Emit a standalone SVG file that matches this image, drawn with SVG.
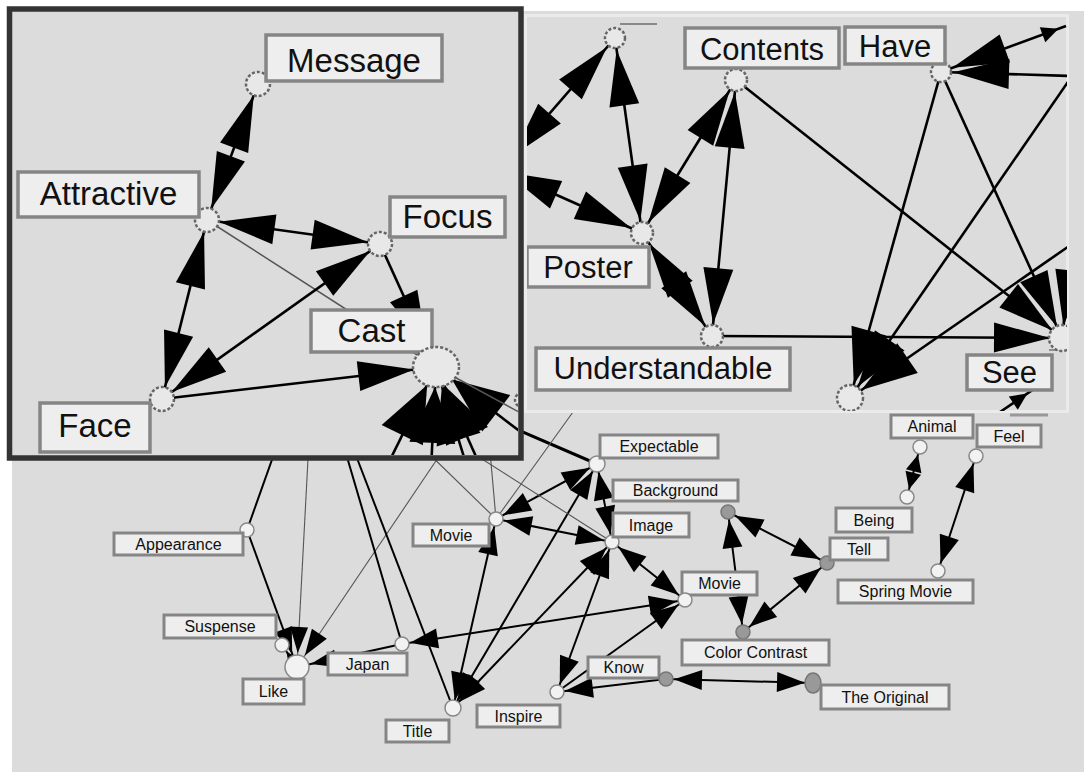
<svg xmlns="http://www.w3.org/2000/svg" width="1084" height="772" viewBox="0 0 1084 772">
<style>
.t{font-family:"Liberation Sans",Arial,sans-serif;fill:#111}
.ts{font-size:16px;text-anchor:middle}
.tb{font-size:33px;text-anchor:middle}
.tm{font-size:31px;text-anchor:middle}
.lb{fill:#eeeeee;stroke:#858585;stroke-width:3}
.lbb{fill:#eeeeee;stroke:#858585;stroke-width:3.5}
.e{stroke:#000;stroke-width:2;fill:none}
.ei{stroke:#000;stroke-width:2.6;fill:none}
.thin{stroke:#555;stroke-width:1.1;fill:none}
.n{fill:#f2f2f2;stroke:#888;stroke-width:1.5}
.ng{fill:#999;stroke:#777;stroke-width:1.5}
.nb{fill:#e8e8e8;stroke:#666;stroke-width:2.5;stroke-dasharray:3 2}
</style>
<defs>
<marker id="a" markerUnits="userSpaceOnUse" orient="auto-start-reverse" viewBox="-38 -12 38 24" markerWidth="38" markerHeight="24" refX="0" refY="0"><path d="M-8,0 L-36,-10 L-36,10Z" fill="#000"/></marker>
<marker id="aL" markerUnits="userSpaceOnUse" orient="auto-start-reverse" viewBox="-42 -11 42 22" markerWidth="42" markerHeight="22" refX="0" refY="0"><path d="M-14,0 L-40,-9 L-40,9Z" fill="#000"/></marker>
<marker id="s" markerUnits="userSpaceOnUse" orient="auto-start-reverse" viewBox="-27 -10 27 20" markerWidth="27" markerHeight="20" refX="0" refY="0"><path d="M-8,0 L-25,-8 L-25,8Z" fill="#000"/></marker>
<marker id="A" markerUnits="userSpaceOnUse" orient="auto-start-reverse" viewBox="-70 -17 70 34" markerWidth="70" markerHeight="34" refX="0" refY="0"><path d="M-12,0 L-68,-15 L-68,15Z" fill="#000"/></marker>
<marker id="AC" markerUnits="userSpaceOnUse" orient="auto-start-reverse" viewBox="-80 -17 80 34" markerWidth="80" markerHeight="34" refX="0" refY="0"><path d="M-22,0 L-78,-15 L-78,15Z" fill="#000"/></marker>
<marker id="F" markerUnits="userSpaceOnUse" orient="auto-start-reverse" viewBox="-78 -25 78 50" markerWidth="78" markerHeight="50" refX="0" refY="0"><path d="M-20,0 L-76,-23 L-76,23Z" fill="#000"/></marker>
<marker id="AB" markerUnits="userSpaceOnUse" orient="auto-start-reverse" viewBox="-72 -20 72 40" markerWidth="72" markerHeight="40" refX="0" refY="0"><path d="M-14,0 L-70,-18 L-70,18Z" fill="#000"/></marker>
<clipPath id="clipL"><rect x="12" y="12" width="506" height="443"/></clipPath>
<clipPath id="clipR"><rect x="527" y="17" width="540" height="394"/></clipPath>
</defs>

<rect x="12" y="11" width="1072" height="761" fill="#dcdcdc"/>

<g id="edges-lower">
<line class="e" x1="279" y1="440" x2="247" y2="530"/>
<line class="e" x1="247" y1="530" x2="297" y2="667" marker-end="url(#aL)"/>
<line class="thin" x1="309" y1="440" x2="297" y2="667" marker-end="url(#aL)"/>
<line class="thin" x1="450" y1="440" x2="297" y2="667" marker-end="url(#aL)"/>
<line class="e" x1="297" y1="667" x2="282" y2="645" marker-end="url(#s)"/>
<line class="e" x1="402" y1="644" x2="297" y2="667" marker-end="url(#aL)"/>
<line class="e" x1="342" y1="440" x2="402" y2="644"/>
<line class="e" x1="350" y1="440" x2="453" y2="708"/>
<line class="e" x1="685" y1="600" x2="402" y2="644" marker-start="url(#a)" marker-end="url(#a)"/>
<line class="e" x1="496" y1="519" x2="453" y2="708" marker-start="url(#a)" marker-end="url(#a)"/>
<line class="e" x1="597" y1="464" x2="453" y2="708" marker-start="url(#a)" marker-end="url(#a)"/>
<line class="e" x1="612" y1="542" x2="453" y2="708" marker-start="url(#a)" marker-end="url(#a)"/>
<line class="e" x1="597" y1="464" x2="496" y2="519" marker-start="url(#a)" marker-end="url(#a)"/>
<line class="e" x1="612" y1="542" x2="496" y2="519" marker-start="url(#a)" marker-end="url(#a)"/>
<line class="e" x1="597" y1="464" x2="612" y2="542" marker-start="url(#a)" marker-end="url(#a)"/>
<line class="e" x1="612" y1="542" x2="685" y2="600" marker-start="url(#a)" marker-end="url(#a)"/>
<line class="e" x1="612" y1="542" x2="557" y2="692" marker-start="url(#a)" marker-end="url(#a)"/>
<line class="e" x1="666" y1="679" x2="557" y2="692" marker-end="url(#a)"/>
<line class="e" x1="557" y1="692" x2="685" y2="600" marker-end="url(#a)"/>
<line class="e" x1="666" y1="679" x2="813" y2="683" marker-start="url(#a)" marker-end="url(#a)"/>
<line class="e" x1="728" y1="512" x2="827" y2="563" marker-start="url(#a)" marker-end="url(#a)"/>
<line class="e" x1="743" y1="632" x2="827" y2="563" marker-start="url(#a)" marker-end="url(#a)"/>
<line class="e" x1="743" y1="632" x2="728" y2="512" marker-start="url(#a)" marker-end="url(#a)"/>
<line class="e" x1="920" y1="447" x2="907" y2="497" marker-start="url(#s)" marker-end="url(#s)"/>
<line class="e" x1="976" y1="456" x2="938" y2="571" marker-start="url(#a)" marker-end="url(#a)"/>
<line class="e" style="stroke-width:3" x1="495" y1="420" x2="597" y2="464"/>
<line class="thin" x1="420" y1="445" x2="496" y2="519"/>
<line class="thin" x1="489" y1="440" x2="496" y2="519"/>
<line class="thin" x1="460" y1="445" x2="612" y2="542"/>
<line class="thin" x1="496" y1="519" x2="596" y2="380"/>
<line x1="1010" y1="415" x2="1048" y2="415" stroke="#999" stroke-width="3"/>
</g>

<g id="n-appearance"><circle class="n" cx="247" cy="530" r="7"/><rect class="lb" x="114" y="533" width="129" height="22"/><text class="t ts" x="178.5" y="550">Appearance</text></g>
<g id="n-suspense"><circle class="n" cx="282" cy="645" r="7"/><rect class="lb" x="164" y="615" width="112" height="23"/><text class="t ts" x="220" y="632">Suspense</text></g>
<g id="n-like"><circle class="n" cx="297" cy="667" r="12"/><rect class="lb" x="243" y="679" width="61" height="25"/><text class="t ts" x="273.5" y="697">Like</text></g>
<g id="n-japan"><circle class="n" cx="402" cy="644" r="7"/><rect class="lb" x="328" y="653" width="79" height="22"/><text class="t ts" x="367.5" y="670">Japan</text></g>
<g id="n-title"><circle class="n" cx="453" cy="708" r="8"/><rect class="lb" x="386" y="720" width="63" height="22"/><text class="t ts" x="417.5" y="737">Title</text></g>
<g id="n-movie1"><circle class="n" cx="496" cy="519" r="7"/><rect class="lb" x="413" y="524" width="76" height="22"/><text class="t ts" x="451" y="541">Movie</text></g>
<g id="n-expectable"><circle class="n" cx="597" cy="464" r="8"/><rect class="lb" x="600" y="435" width="118" height="23"/><text class="t ts" x="659" y="452">Expectable</text></g>
<g id="n-background"><rect class="lb" x="613" y="480" width="125" height="21"/><text class="t ts" x="675.5" y="496">Background</text><circle class="ng" cx="728" cy="512" r="7"/></g>
<g id="n-image"><circle class="n" cx="612" cy="542" r="7"/><rect class="lb" x="613" y="513" width="76" height="24"/><text class="t ts" x="651" y="531">Image</text></g>
<g id="n-movie2"><rect class="lb" x="682" y="572" width="75" height="23"/><text class="t ts" x="719.5" y="589">Movie</text><circle class="n" cx="685" cy="600" r="7"/></g>
<g id="n-colorcontrast"><circle class="ng" cx="743" cy="632" r="7"/><rect class="lb" x="682" y="640" width="147" height="25"/><text class="t ts" x="755.5" y="658">Color Contrast</text></g>
<g id="n-tell"><circle class="ng" cx="827" cy="563" r="7"/><rect class="lb" x="830" y="538" width="58" height="22"/><text class="t ts" x="859" y="555">Tell</text></g>
<g id="n-know"><rect class="lb" x="588" y="657" width="71" height="21"/><text class="t ts" x="623.5" y="673">Know</text><circle class="ng" cx="666" cy="679" r="7"/></g>
<g id="n-inspire"><circle class="n" cx="557" cy="692" r="7"/><rect class="lb" x="477" y="705" width="83" height="22"/><text class="t ts" x="518.5" y="722">Inspire</text></g>
<g id="n-original"><ellipse class="ng" cx="813" cy="683" rx="8" ry="10"/><rect class="lb" x="821" y="685" width="128" height="24"/><text class="t ts" x="885" y="703">The Original</text></g>
<g id="n-animal"><rect class="lb" x="891" y="415" width="82" height="23"/><text class="t ts" x="932" y="432">Animal</text><circle class="n" cx="920" cy="447" r="7"/></g>
<g id="n-being"><circle class="n" cx="907" cy="497" r="7"/><rect class="lb" x="836" y="508" width="76" height="24"/><text class="t ts" x="874" y="526">Being</text></g>
<g id="n-feel"><rect class="lb" x="977" y="425" width="64" height="22"/><text class="t ts" x="1009" y="442">Feel</text><circle class="n" cx="976" cy="456" r="7"/></g>
<g id="n-springmovie"><circle class="n" cx="938" cy="571" r="7"/><rect class="lb" x="838" y="580" width="135" height="23"/><text class="t ts" x="905.5" y="597">Spring Movie</text></g>

<g id="inset-right">
<rect x="525.5" y="15.5" width="542" height="396" fill="#dcdcdc" stroke="#ebebeb" stroke-width="3"/>
<g clip-path="url(#clipR)">
<g id="edges-inset-right">
<line class="ei" x1="615" y1="38" x2="505" y2="165" marker-start="url(#A)" marker-end="url(#A)"/>
<line class="ei" x1="615" y1="38" x2="642" y2="233" marker-start="url(#A)" marker-end="url(#A)"/>
<line class="ei" x1="642" y1="233" x2="494" y2="167" marker-start="url(#A)" marker-end="url(#A)"/>
<line class="ei" x1="736" y1="80" x2="642" y2="233" marker-start="url(#A)" marker-end="url(#A)"/>
<line class="ei" x1="736" y1="80" x2="712" y2="336" marker-start="url(#A)" marker-end="url(#A)"/>
<line class="ei" x1="642" y1="233" x2="712" y2="336" marker-start="url(#A)" marker-end="url(#A)"/>
<line class="ei" x1="736" y1="80" x2="1062" y2="338" marker-end="url(#A)"/>
<line class="ei" x1="712" y1="336" x2="1062" y2="338" marker-end="url(#A)"/>
<line class="ei" x1="941" y1="72" x2="850" y2="398" marker-end="url(#AB)"/>
<line class="ei" x1="941" y1="72" x2="1062" y2="338" marker-end="url(#A)"/>
<line class="ei" x1="1072" y1="76" x2="850" y2="398" marker-end="url(#AB)"/>
<line class="ei" x1="1072" y1="244" x2="850" y2="398" marker-end="url(#AB)"/>
<line class="ei" x1="1072" y1="76" x2="941" y2="72" marker-end="url(#A)"/>
<line class="ei" x1="941" y1="72" x2="1066" y2="26" marker-start="url(#A)" marker-end="url(#s)"/>
<line class="ei" x1="1085" y1="150" x2="1062" y2="338" marker-end="url(#A)"/>
<line class="thin" x1="1049" y1="350" x2="1068" y2="350"/>
<line class="ei" x1="1000" y1="412" x2="1034" y2="389" marker-end="url(#s)"/>
<line x1="620" y1="24" x2="657" y2="24" stroke="#888" stroke-width="2"/>
</g>
<g id="n-r-top"><circle class="nb" cx="615" cy="38" r="10"/></g>
<g id="n-contents"><circle class="nb" cx="736" cy="80" r="11"/><rect class="lbb" x="685" y="28" width="154" height="40"/><text class="t tm" x="762" y="60">Contents</text></g>
<g id="n-have"><circle class="nb" cx="941" cy="72" r="10"/><rect class="lbb" x="845" y="27" width="100" height="37"/><text class="t tm" x="895" y="57">Have</text></g>
<g id="n-poster"><circle class="nb" cx="642" cy="233" r="11"/><rect class="lbb" x="527" y="247" width="122" height="40"/><text class="t tm" x="588" y="278">Poster</text></g>
<g id="n-understandable"><circle class="nb" cx="712" cy="336" r="11"/><rect class="lbb" x="536" y="348" width="254" height="42"/><text class="t tm" x="663" y="379">Understandable</text></g>
<g id="n-see"><circle class="nb" cx="1062" cy="338" r="13"/><rect class="lbb" x="967" y="355" width="85" height="35"/><text class="t tm" x="1009.5" y="383">See</text></g>
<g id="n-r-bottom"><circle class="nb" cx="850" cy="398" r="13"/></g>
</g>
</g>

<g id="inset-left">
<rect x="9.5" y="9" width="511.5" height="449" fill="#dcdcdc"/>
<g clip-path="url(#clipL)">
<g id="edges-inset-left">
<line class="ei" x1="258" y1="84" x2="207" y2="220" marker-start="url(#A)" marker-end="url(#A)"/>
<line class="ei" x1="207" y1="220" x2="380" y2="244" marker-start="url(#A)" marker-end="url(#A)"/>
<line class="thin" style="stroke-width:1.5" x1="207" y1="220" x2="436" y2="367"/>
<line class="ei" x1="207" y1="220" x2="162" y2="399" marker-start="url(#A)" marker-end="url(#A)"/>
<line class="ei" x1="162" y1="399" x2="380" y2="244" marker-start="url(#A)" marker-end="url(#A)"/>
<line class="ei" x1="380" y1="244" x2="436" y2="367" marker-end="url(#AC)"/>
<line class="ei" x1="162" y1="399" x2="436" y2="367" marker-end="url(#AC)"/>
<line class="ei" x1="385" y1="470" x2="436" y2="367" marker-end="url(#F)"/>
<line class="ei" x1="431" y1="470" x2="436" y2="367" marker-end="url(#F)"/>
<line class="ei" x1="468" y1="470" x2="436" y2="367" marker-end="url(#F)"/>
<line class="ei" x1="482" y1="470" x2="436" y2="367" marker-end="url(#F)"/>
<line class="ei" x1="535" y1="443" x2="436" y2="367" marker-end="url(#F)"/>
<line class="thin" style="stroke-width:1.5" x1="436" y1="367" x2="530" y2="418"/>
</g>
<g id="n-edge-stub"><circle class="nb" cx="522" cy="400" r="7"/></g>
<g id="n-message"><circle class="nb" cx="258" cy="84" r="12"/><rect class="lbb" x="266" y="35" width="176" height="46"/><text class="t tb" x="354" y="72">Message</text></g>
<g id="n-attractive"><circle class="nb" cx="207" cy="220" r="12"/><rect class="lbb" x="18" y="172" width="181" height="45"/><text class="t tb" x="108.5" y="205">Attractive</text></g>
<g id="n-focus"><circle class="nb" cx="380" cy="244" r="12"/><rect class="lbb" x="390" y="197" width="115" height="40"/><text class="t tb" x="447.5" y="228">Focus</text></g>
<g id="n-cast"><rect class="lbb" x="311" y="310" width="121" height="42"/><text class="t tb" x="371.5" y="342">Cast</text><ellipse class="nb" cx="436" cy="367" rx="23" ry="20"/></g>
<g id="n-face"><circle class="nb" cx="162" cy="399" r="12"/><rect class="lbb" x="40" y="403" width="110" height="49"/><text class="t tb" x="95" y="437">Face</text></g>
</g>
<rect x="9.5" y="9" width="511.5" height="449" fill="none" stroke="#333" stroke-width="5.5"/>
</g>
</svg>
